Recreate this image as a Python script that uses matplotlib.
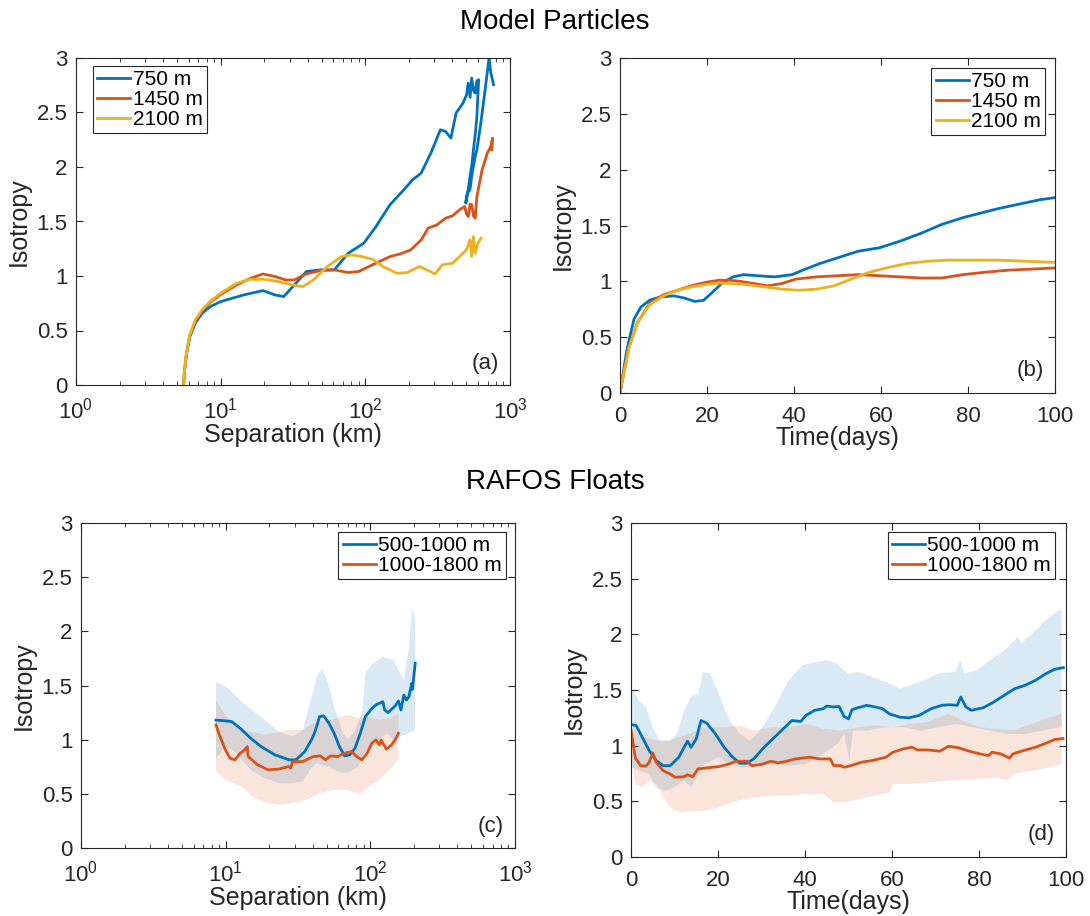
import matplotlib
matplotlib.use("Agg")
import matplotlib.pyplot as plt

plt.rcParams['font.family'] = ['Liberation Sans', 'DejaVu Sans']
plt.rcParams['mathtext.default'] = 'regular'

BLUE = '#0072BD'
RED = '#D95319'
YELLOW = '#EDB120'

# ---- (a) model particles, isotropy vs separation ----
a_sep_750 = [5.54, 5.62, 5.8, 6.12, 6.7, 7.43, 8.5, 10.0, 14.4, 19.6, 23.8, 27.3, 33.1, 39.1,
             48.8, 61.0, 76.1, 97.6, 118.5, 147.9, 184.6, 211.9, 243.3, 287.2, 330.0, 358.9,
             390.2, 424.1, 473.4, 500.0, 514.3, 530.0, 543.5, 560.0, 574.4, 590.0, 607.0, 598.0,
             590.4, 575.0, 558.8, 545.0, 528.8, 515.0, 500.4, 494.8, 510.0, 528.8, 545.0, 558.8,
             575.0, 590.4, 624.1, 659.5, 716.6, 736.8, 770.3]
a_iso_750 = [0.0, 0.12, 0.28, 0.444, 0.57, 0.658, 0.72, 0.765, 0.826, 0.866, 0.826, 0.811,
             0.934, 1.041, 1.056, 1.056, 1.209, 1.301, 1.454, 1.653, 1.791, 1.882, 1.944, 2.143,
             2.342, 2.326, 2.265, 2.495, 2.587, 2.66, 2.770, 2.64, 2.816, 2.70, 2.678, 2.79,
             2.801, 2.62, 2.464, 2.30, 2.158, 2.02, 1.913, 1.80, 1.729, 1.668, 1.76, 1.791, 1.93,
             2.005, 2.10, 2.158, 2.372, 2.617, 3.0, 2.862, 2.755]
a_sep_1450 = [5.54, 5.62, 5.8, 6.12, 6.7, 7.43, 8.5, 10.0, 12.9, 16.1, 19.6, 23.8, 28.1, 32.2,
              39.1, 48.8, 61.0, 76.1, 89.8, 106.0, 125.3, 147.9, 174.6, 206.1, 243.3, 271.8,
              312.6, 358.9, 400.6, 447.8, 486.5, 500.0, 514.3, 530.0, 543.5, 560.0, 574.4, 590.4,
              641.6, 697.1, 736.8, 757.3, 749.4]
a_iso_1450 = [0.0, 0.13, 0.29, 0.45, 0.59, 0.68, 0.76, 0.83, 0.918, 0.979, 1.019, 0.995, 0.964,
              0.964, 1.019, 1.050, 1.056, 1.032, 1.041, 1.087, 1.133, 1.178, 1.203, 1.240, 1.331,
              1.439, 1.469, 1.530, 1.552, 1.607, 1.638, 1.57, 1.546, 1.66, 1.653, 1.55, 1.530,
              1.729, 1.974, 2.127, 2.189, 2.265, 2.158]
a_sep_2100 = [5.54, 5.62, 5.8, 6.12, 6.7, 7.43, 8.5, 10.0, 12.9, 16.1, 20.1, 25.1, 31.4, 37.0,
              43.7, 54.6, 68.1, 80.4, 94.9, 112.2, 132.5, 165.2, 194.9, 236.8, 271.8, 303.8,
              340.3, 400.6, 447.8, 500.4, 528.8, 543.5, 558.8, 574.4, 600.0, 631.0]
a_iso_2100 = [0.0, 0.13, 0.29, 0.46, 0.60, 0.69, 0.77, 0.842, 0.934, 0.970, 0.970, 0.949, 0.918,
              0.903, 0.964, 1.087, 1.178, 1.194, 1.178, 1.154, 1.087, 1.025, 1.032, 1.087, 1.050,
              1.019, 1.102, 1.117, 1.178, 1.240, 1.331, 1.178, 1.362, 1.209, 1.30, 1.347]

# ---- (b) model particles, isotropy vs time ----
b_t_750 = [0, 1.6, 3.2, 4.8, 6.8, 9.2, 12.4, 14.8, 17.2, 19.2, 21.2, 23.6, 26.0, 28.4, 31.6,
           35.6, 39.6, 42.0, 46.0, 50.0, 54.8, 59.6, 64.4, 69.2, 74.0, 78.8, 82.8, 86.8, 91.6,
           96.4, 100]
b_iso_750 = [0.0, 0.39, 0.66, 0.77, 0.83, 0.86, 0.87, 0.85, 0.82, 0.83, 0.90, 0.99, 1.04, 1.06,
             1.05, 1.04, 1.06, 1.10, 1.16, 1.21, 1.27, 1.30, 1.36, 1.43, 1.51, 1.57, 1.61, 1.65,
             1.69, 1.73, 1.75]
b_t_1450 = [0, 2.0, 4.0, 6.8, 10.0, 13.2, 16.4, 19.6, 22.8, 25.2, 27.6, 30.8, 34.0, 37.2, 40.4,
            45.2, 50.0, 54.8, 59.6, 64.4, 69.2, 74.0, 78.8, 83.6, 89.2, 94.8, 100]
b_iso_1450 = [0.0, 0.40, 0.63, 0.80, 0.88, 0.92, 0.96, 0.99, 1.01, 1.01, 1.00, 0.98, 0.96, 0.98,
              1.02, 1.04, 1.05, 1.06, 1.05, 1.04, 1.03, 1.03, 1.06, 1.08, 1.10, 1.11, 1.12]
b_t_2100 = [0, 2.0, 4.0, 6.8, 10.0, 13.2, 16.4, 19.6, 22.8, 26.0, 29.2, 33.2, 37.2, 41.2, 45.2,
            49.2, 53.2, 57.2, 61.2, 66.0, 70.8, 75.6, 80.4, 86.8, 93.2, 100]
b_iso_2100 = [0.0, 0.40, 0.63, 0.79, 0.87, 0.92, 0.95, 0.97, 0.985, 0.98, 0.97, 0.95, 0.93, 0.92,
              0.93, 0.96, 1.02, 1.08, 1.12, 1.16, 1.18, 1.19, 1.19, 1.19, 1.18, 1.17]

# ---- (c) RAFOS floats, isotropy vs separation ----
c_sep_shal = [8.57, 9.57, 11.0, 12.6, 14.9, 17.6, 21.9, 27.4, 30.6, 35.2, 39.2, 41.5, 44.6, 47.6,
              51.8, 56.2, 61.1, 66.4, 72.2, 78.4, 85.2, 92.5, 100.5, 109.2, 122.1, 125.6, 132.7,
              148.2, 156.6, 162.9, 170.4, 177.8, 184.8, 193.3, 195.5, 204.2]
c_iso_shal = [1.18, 1.176, 1.167, 1.105, 1.013, 0.936, 0.860, 0.814, 0.814, 0.890, 0.998, 1.075,
              1.213, 1.219, 1.151, 1.059, 0.936, 0.850, 0.860, 0.921, 1.059, 1.213, 1.274, 1.320,
              1.351, 1.274, 1.250, 1.311, 1.357, 1.274, 1.412, 1.366, 1.397, 1.520, 1.465, 1.704]
c_hi_sep_shal = [8.57, 10.1, 13.3, 18.6, 23.2, 29.0, 34.2, 38.2, 42.7, 46.3, 50.3, 56.2, 64.6,
                 70.2, 78.4, 87.5, 92.5, 103.3, 122.1, 144.1, 161.1, 170.4, 184.8, 195.0, 204.2]
c_hi_shal = [1.535, 1.489, 1.336, 1.182, 1.075, 1.029, 1.090, 1.336, 1.581, 1.658, 1.550, 1.305,
             1.059, 0.998, 1.090, 1.243, 1.612, 1.704, 1.765, 1.735, 1.612, 1.550, 1.858, 2.226,
             2.10]
c_lo_sep_shal = [8.57, 10.1, 11.9, 14.9, 18.6, 23.2, 29.0, 34.2, 38.2, 42.7, 50.3, 56.2, 64.6,
                 72.2, 82.8, 90.0, 103.3, 115.5, 129.1, 144.1, 161.1, 184.8, 204.2]
c_lo_shal = [0.829, 0.936, 0.875, 0.722, 0.645, 0.599, 0.599, 0.614, 0.722, 0.783, 0.752, 0.722,
             0.691, 0.706, 0.752, 0.875, 0.936, 0.998, 1.059, 0.998, 1.029, 1.059, 1.090]
c_sep_deep = [8.57, 9.05, 9.84, 10.7, 11.6, 12.6, 13.7, 14.1, 14.3, 16.6, 19.6, 23.2, 27.4, 28.2,
              29.0, 34.2, 40.3, 45.1, 48.9, 53.2, 59.4, 66.4, 74.2, 80.5, 87.5, 95.1, 102.3,
              109.2, 115.5, 118.8, 129.1, 140.2, 148.2, 156.6]
c_iso_deep = [1.136, 1.044, 0.921, 0.829, 0.814, 0.875, 0.912, 0.936, 0.844, 0.768, 0.722, 0.728,
              0.752, 0.737, 0.798, 0.798, 0.844, 0.850, 0.814, 0.850, 0.844, 0.875, 0.890, 0.844,
              0.814, 0.875, 0.967, 0.998, 0.952, 0.998, 0.912, 0.952, 0.998, 1.059]
c_hi_sep_deep = [8.57, 10.1, 13.3, 18.6, 27.4, 34.2, 40.3, 53.2, 70.2, 82.8, 97.8, 115.5, 136.4,
                 156.6]
c_hi_deep = [1.366, 1.213, 1.090, 1.044, 1.090, 1.090, 1.151, 1.182, 1.228, 1.197, 1.213, 1.182,
             1.197, 1.243]
c_lo_sep_deep = [8.57, 10.1, 13.3, 15.7, 19.6, 23.2, 29.0, 36.1, 45.1, 56.2, 70.2, 78.4, 87.5,
                 97.8, 115.5, 136.4, 156.6]
c_lo_deep = [0.706, 0.629, 0.553, 0.461, 0.414, 0.399, 0.414, 0.445, 0.507, 0.537, 0.537, 0.507,
             0.507, 0.568, 0.629, 0.722, 0.829]

# ---- (d) RAFOS floats, isotropy vs time ----
d_t_shal = [0, 1.2, 2.6, 4.2, 5.8, 7.4, 9.0, 11.0, 12.2, 13.0, 13.8, 15.0, 16.1, 17.4, 19.4,
            21.4, 23.4, 25.0, 26.6, 28.2, 30.6, 33.0, 35.4, 37.0, 39.0, 40.2, 42.2, 44.2, 45.0,
            46.6, 47.8, 49.0, 50.0, 50.8, 52.2, 54.2, 56.2, 57.8, 59.4, 61.8, 63.8, 66.2, 69.0,
            71.4, 73.4, 75.0, 75.8, 77.0, 78.2, 81.0, 83.4, 85.8, 88.2, 90.6, 93.0, 95.4, 97.4,
            99.4]
d_iso_shal = [1.19, 1.18, 1.075, 0.955, 0.866, 0.82, 0.82, 0.896, 0.986, 1.04, 0.986, 1.061,
              1.226, 1.202, 1.106, 0.986, 0.896, 0.842, 0.842, 0.881, 0.986, 1.076, 1.166, 1.226,
              1.217, 1.271, 1.317, 1.332, 1.356, 1.347, 1.353, 1.262, 1.241, 1.323, 1.341, 1.362,
              1.347, 1.332, 1.286, 1.256, 1.25, 1.271, 1.332, 1.362, 1.368, 1.362, 1.437, 1.347,
              1.317, 1.341, 1.392, 1.452, 1.512, 1.542, 1.587, 1.647, 1.686, 1.701]
d_hi_t_shal = [0, 1.8, 3.4, 5.0, 6.6, 9.0, 10.6, 12.2, 13.8, 15.4, 16.6, 18.2, 20.2, 22.6, 25.0,
               27.4, 29.8, 33.0, 36.2, 39.4, 42.6, 45.0, 47.4, 49.8, 52.2, 55.4, 58.6, 61.8,
               64.2, 67.4, 70.6, 74.6, 75.7, 76.6, 79.4, 82.6, 85.8, 88.2, 89.0, 89.8, 92.2,
               95.4, 97.8, 99.0]
d_hi_shal = [1.527, 1.407, 1.347, 1.166, 1.046, 1.046, 1.106, 1.317, 1.437, 1.467, 1.662, 1.647,
             1.467, 1.226, 1.106, 1.046, 1.136, 1.347, 1.587, 1.722, 1.752, 1.767, 1.737, 1.647,
             1.662, 1.617, 1.572, 1.512, 1.542, 1.587, 1.647, 1.662, 1.767, 1.647, 1.677, 1.767,
             1.857, 1.948, 1.978, 1.918, 2.008, 2.128, 2.203, 2.224]
d_lo_t_shal = [0, 1.8, 4.2, 5.8, 7.8, 9.8, 12.2, 13.8, 14.6, 17.0, 20.2, 22.6, 25.0, 28.2, 32.2,
               36.2, 40.2, 44.2, 47.4, 49.0, 50.2, 51.0, 54.6, 58.6, 62.6, 66.6, 70.6, 74.6,
               78.6, 82.6, 86.6, 90.6, 94.6, 99.0]
d_lo_shal = [0.806, 0.776, 0.745, 0.625, 0.595, 0.625, 0.685, 0.625, 0.685, 0.836, 0.896, 0.836,
             0.806, 0.806, 0.836, 0.82, 0.836, 0.926, 1.016, 1.106, 0.866, 1.136, 1.136, 1.166,
             1.166, 1.136, 1.166, 1.196, 1.166, 1.136, 1.106, 1.106, 1.136, 1.166]
d_t_deep = [0, 1.0, 2.2, 3.4, 4.2, 5.0, 5.8, 7.4, 9.0, 10.2, 12.2, 13.0, 14.2, 15.4, 17.4, 20.2,
            22.6, 24.2, 26.6, 27.8, 29.8, 32.2, 33.8, 35.4, 37.8, 41.0, 43.4, 45.8, 46.6, 48.2,
            49.0, 50.6, 53.0, 55.4, 58.6, 60.2, 62.6, 64.6, 65.8, 68.2, 71.0, 73.0, 75.4, 77.8,
            80.2, 82.2, 83.0, 85.0, 87.0, 87.8, 90.2, 93.0, 95.4, 97.4, 99.3]
d_iso_deep = [1.136, 0.889, 0.821, 0.815, 0.851, 0.935, 0.851, 0.775, 0.745, 0.715, 0.721, 0.739,
              0.721, 0.791, 0.800, 0.812, 0.836, 0.860, 0.860, 0.821, 0.830, 0.860, 0.845, 0.857,
              0.881, 0.896, 0.881, 0.881, 0.821, 0.821, 0.806, 0.821, 0.851, 0.866, 0.896, 0.941,
              0.971, 0.986, 0.962, 0.962, 0.950, 0.995, 0.980, 0.950, 0.926, 0.911, 0.941, 0.926,
              0.889, 0.926, 0.956, 0.986, 1.022, 1.055, 1.064]
d_hi_t_deep = [0, 1.8, 4.2, 6.6, 9.0, 12.2, 15.4, 17.8, 21.8, 25.0, 28.2, 32.2, 36.2, 40.2, 44.2,
               48.2, 52.2, 56.2, 60.2, 64.2, 68.2, 73.0, 76.2, 80.2, 84.2, 88.2, 92.2, 96.2, 99.0]
d_hi_deep = [1.166, 1.106, 1.061, 1.046, 1.046, 1.091, 1.136, 1.166, 1.166, 1.181, 1.136, 1.166,
             1.166, 1.196, 1.151, 1.136, 1.166, 1.181, 1.166, 1.196, 1.211, 1.286, 1.226, 1.166,
             1.150, 1.140, 1.196, 1.256, 1.286]
d_lo_t_deep = [0, 1.0, 2.6, 4.2, 5.8, 7.4, 9.0, 11.4, 13.8, 17.0, 20.2, 24.2, 28.2, 32.2, 36.2,
               40.2, 44.2, 46.6, 49.0, 52.2, 56.2, 59.4, 60.2, 64.2, 68.2, 72.2, 76.2, 80.2, 84.2,
               86.6, 87.8, 92.2, 96.2, 99.0]
d_lo_deep = [0.926, 0.655, 0.625, 0.685, 0.655, 0.535, 0.445, 0.400, 0.415, 0.415, 0.445, 0.505,
             0.535, 0.550, 0.550, 0.565, 0.565, 0.490, 0.490, 0.520, 0.550, 0.580, 0.655, 0.655,
             0.670, 0.685, 0.691, 0.700, 0.715, 0.685, 0.745, 0.775, 0.806, 0.836]

model_labels = ['750 m', '1450 m', '2100 m']
float_labels = ['500-1000 m', '1000-1800 m']

W, H = 1090, 916
fig = plt.figure(figsize=(W / 100, H / 100), dpi=100)


def add_axes(left, right, top, bottom):
    # pixel box -> figure fraction
    return fig.add_axes([left / W, (H - bottom) / H, (right - left) / W, (bottom - top) / H])


def style(ax, tag):
    ax.set_ylim(0, 3)
    ax.set_yticks([0, 0.5, 1, 1.5, 2, 2.5, 3])
    ax.set_yticklabels(['0', '0.5', '1', '1.5', '2', '2.5', '3'])
    ax.tick_params(which='both', direction='in', top=True, right=True, labelsize=16,
                   color='#262626', labelcolor='#262626')
    ax.tick_params(axis='y', pad=6)
    ax.tick_params(axis='x', pad=9)
    ax.tick_params(which='major', length=5, width=0.8)
    ax.tick_params(which='minor', length=3, width=0.6)
    for s in ax.spines.values():
        s.set_color('#262626')
        s.set_linewidth(0.8)
    ax.set_ylabel('Isotropy', fontsize=18, color='#262626', labelpad=4)
    ax.text(0.975, 0.035, tag, transform=ax.transAxes, ha='right', va='bottom',
            fontsize=16, color='#262626')


def legend(ax, x, y, loc):
    leg = ax.legend(loc=loc, bbox_to_anchor=(x, y), fontsize=15, frameon=True, fancybox=False,
                    framealpha=1, edgecolor='#262626', borderaxespad=0, borderpad=0.2,
                    labelspacing=0.05, handlelength=1.6, handletextpad=0.1)
    leg.get_frame().set_linewidth(0.8)


lw = 2.0

ax_a = add_axes(76, 510, 58, 385)
ax_a.plot(a_sep_750, a_iso_750, color=BLUE, lw=lw, label=model_labels[0])
ax_a.plot(a_sep_1450, a_iso_1450, color=RED, lw=lw, label=model_labels[1])
ax_a.plot(a_sep_2100, a_iso_2100, color=YELLOW, lw=lw, label=model_labels[2])
ax_a.set_xscale('log')
ax_a.set_xlim(1, 1000)
ax_a.set_xlabel('Separation (km)', fontsize=18, color='#262626', labelpad=0)
style(ax_a, '(a)')
legend(ax_a, 0.039, 0.976, 'upper left')

ax_b = add_axes(620, 1055, 58, 393)
ax_b.plot(b_t_750, b_iso_750, color=BLUE, lw=lw, label=model_labels[0])
ax_b.plot(b_t_1450, b_iso_1450, color=RED, lw=lw, label=model_labels[1])
ax_b.plot(b_t_2100, b_iso_2100, color=YELLOW, lw=lw, label=model_labels[2])
ax_b.set_xlim(0, 100)
ax_b.set_xticks([0, 20, 40, 60, 80, 100])
ax_b.set_xlabel('Time(days)', fontsize=18, color='#262626', labelpad=0)
style(ax_b, '(b)')
legend(ax_b, 0.977, 0.970, 'upper right')

ax_c = add_axes(81, 515, 523, 848)
ax_c.fill(c_hi_sep_shal + c_lo_sep_shal[::-1], c_hi_shal + c_lo_shal[::-1],
          color=BLUE, alpha=0.15, lw=0)
ax_c.fill(c_hi_sep_deep + c_lo_sep_deep[::-1], c_hi_deep + c_lo_deep[::-1],
          color=RED, alpha=0.15, lw=0)
ax_c.plot(c_sep_shal, c_iso_shal, color=BLUE, lw=lw, label=float_labels[0])
ax_c.plot(c_sep_deep, c_iso_deep, color=RED, lw=lw, label=float_labels[1])
ax_c.set_xscale('log')
ax_c.set_xlim(1, 1000)
ax_c.set_xlabel('Separation (km)', fontsize=18, color='#262626', labelpad=0)
style(ax_c, '(c)')
legend(ax_c, 0.979, 0.972, 'upper right')

ax_d = add_axes(631, 1066, 523, 857)
ax_d.fill(d_hi_t_shal + d_lo_t_shal[::-1], d_hi_shal + d_lo_shal[::-1],
          color=BLUE, alpha=0.15, lw=0)
ax_d.fill(d_hi_t_deep + d_lo_t_deep[::-1], d_hi_deep + d_lo_deep[::-1],
          color=RED, alpha=0.15, lw=0)
ax_d.plot(d_t_shal, d_iso_shal, color=BLUE, lw=lw, label=float_labels[0])
ax_d.plot(d_t_deep, d_iso_deep, color=RED, lw=lw, label=float_labels[1])
ax_d.set_xlim(0, 100)
ax_d.set_xticks([0, 20, 40, 60, 80, 100])
ax_d.set_xlabel('Time(days)', fontsize=18, color='#262626', labelpad=0)
style(ax_d, '(d)')
legend(ax_d, 0.975, 0.973, 'upper right')

fig.text(555 / W, 1 - 22 / H, 'Model Particles', ha='center', va='center', fontsize=20)
fig.text(555 / W, 1 - 482 / H, 'RAFOS Floats', ha='center', va='center', fontsize=20)

fig.savefig('out.png', dpi=100)
